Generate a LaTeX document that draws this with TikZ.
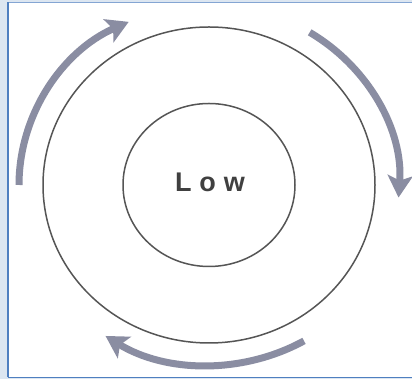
\documentclass[tikz,border=0pt]{standalone}
\usepackage{fontspec}
\setmainfont{Liberation Sans}
\usetikzlibrary{arrows.meta}
\definecolor{bgblue}{HTML}{DCE6F1}
\definecolor{frameblue}{HTML}{4F7FC0}
\definecolor{arrowgray}{HTML}{8A8DA2}
\definecolor{ringgray}{HTML}{555555}
\definecolor{textgray}{HTML}{404040}
\tikzset{
  ring/.style={draw=ringgray, line width=1.5pt},
  flow/.style={draw=arrowgray, line width=7pt, -{Stealth[length=22pt, width=25pt, inset=5pt]}},
}
\begin{document}
\begin{tikzpicture}[x=1pt,y=1pt]
\useasboundingbox (0,0) rectangle (412,379);
\fill[bgblue] (0,0) rectangle (412,379);
\fill[white] (8,1.5) rectangle (414,376.5);
\draw[frameblue!70, line width=1pt] (8,376.5) -- (414,376.5);
\draw[frameblue, line width=1.6pt] (8,1.5) -- (414,1.5);
\draw[frameblue, line width=1.6pt] (8,1.5) -- (8,376.5);
\coordinate (c) at (209,194);
\draw[ring] (c) ellipse [x radius=166, y radius=158];
\draw[ring] (c) ellipse [x radius=86, y radius=81.5];
\node[text=textgray, font=\bfseries\fontsize{27}{30}\selectfont] (low) at (210,197) {L\hspace{8pt}o\hspace{8pt}w};
\draw[flow] ([shift={(180:190 and 180)}]c) arc [start angle=180, end angle=115, x radius=190, y radius=180];
\draw[flow] ([shift={(58:190 and 180)}]c) arc [start angle=58, end angle=-4, x radius=190, y radius=180];
\draw[flow] ([shift={(-60:190 and 180)}]c) arc [start angle=-60, end angle=-123, x radius=190, y radius=180];
\end{tikzpicture}
\end{document}
